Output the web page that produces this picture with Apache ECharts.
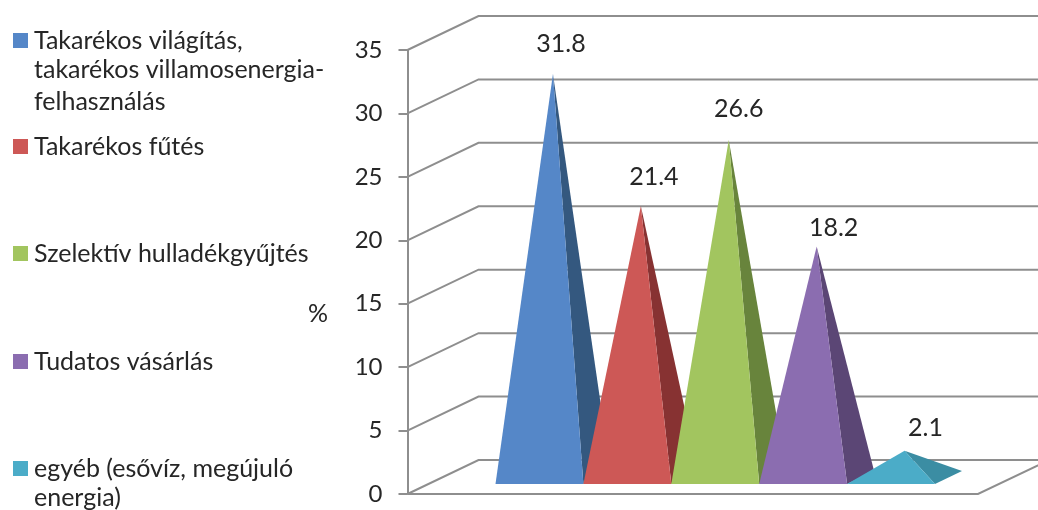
<!DOCTYPE html>
<html><head><meta charset="utf-8">
<style>html,body{margin:0;padding:0;background:#fff}#c{width:1038px;height:510px}</style>
<script src="https://cdn.jsdelivr.net/npm/echarts@6/dist/echarts.min.js"></script>
</head><body><div id="c"></div>
<script>
const categoryLines = [
  ['Takarékos világítás,', 'takarékos villamosenergia-', 'felhasználás'],
  ['Takarékos fűtés'],
  ['Szelektív hulladékgyűjtés'],
  ['Tudatos vásárlás'],
  ['egyéb (esővíz, megújuló', 'energia)']
];
const values = [31.8, 21.4, 26.6, 18.2, 2.1];
const tickValues = [0, 5, 10, 15, 20, 25, 30, 35];
const unitLabel = '%';

// styles and layout, kept apart from the data
const faceColors = ['#5587C8', '#CD5856', '#A2C55F', '#8B6DB0', '#4BACC8'];
const sideColors = ['#34587F', '#873232', '#68843C', '#5B4675', '#3B8DA3'];
const legendCentres = [40, 146, 253, 361, 468];
const labelNudge = [[8, -30], [13, -29], [10, -31], [17, -19], [21, -23]];
const FONT = 'Lato';
const TEXT = '#262626';
const GRID = '#8E8E8E';
const WALL = [71, -34], LEFT_GAP = 88, RIGHT_GAP = 43, LINE_H = 32;
const BAR_LIFT = 10, BAR_DEPTH = [27, -13];
const TEXT_SIZE = 25;

const names = categoryLines.map(l => l.join(' '));

function frameItem(params, api) {
  const v = api.value(0);
  const cs = params.coordSys;
  const y = api.coord([0, v])[1];
  const xl = cs.x - LEFT_GAP, xr = cs.x + cs.width + RIGHT_GAP;
  const pts = [[xl, y], [xl + WALL[0], y + WALL[1]], [xr + WALL[0], y + WALL[1]]];
  const children = [{ type: 'polyline', shape: { points: pts }, style: { fill: null, stroke: GRID, lineWidth: 2 } }];
  if (v === 0) {
    children.push({ type: 'polyline',
      shape: { points: [[xl, y], [xr, y], [xr + WALL[0], y + WALL[1]]] },
      style: { fill: null, stroke: GRID, lineWidth: 2 } });
  }
  return { type: 'group', children };
}

function pyramidItem(seriesIndex) {
  return function (params, api) {
    const c = api.value(0), v = api.value(1);
    const w = api.size([1, 0])[0];
    const base = api.coord([c, 0]);
    const top = api.coord([c, v]);
    const h = base[1] - top[1];
    const fy = base[1] - BAR_LIFT;
    const fl = [base[0] - w / 2, fy], fr = [base[0] + w / 2, fy];
    const br = [fr[0] + BAR_DEPTH[0], fy + BAR_DEPTH[1]];
    const apex = [base[0] + BAR_DEPTH[0] / 2, fy + BAR_DEPTH[1] / 2 - h];
    const n = labelNudge[seriesIndex];
    return { type: 'group', children: [
      { type: 'polygon', shape: { points: [fr, br, apex] }, style: { fill: sideColors[seriesIndex] } },
      { type: 'polygon', shape: { points: [fl, fr, apex] }, style: { fill: faceColors[seriesIndex] } },
      { type: 'text', z2: 50, style: { text: String(v), x: apex[0] + n[0], y: apex[1] + n[1],
        align: 'center', verticalAlign: 'middle', fill: TEXT, font: TEXT_SIZE + 'px ' + FONT } }
    ] };
  };
}

const extraLines = [];
categoryLines.forEach((lines, i) => {
  lines.slice(1).forEach((t, j) => {
    extraLines.push({ type: 'text', left: 34, top: legendCentres[i] + (j + 1) * LINE_H - 17,
      style: { text: t, fill: TEXT, font: TEXT_SIZE + 'px ' + FONT, lineHeight: 30 }, silent: true });
  });
});

const chart = echarts.init(document.getElementById('c'), null, { renderer: 'canvas' });
chart.setOption({
  animation: false,
  backgroundColor: '#fff',
  grid: { left: 495.5, top: 50, width: 439.5, height: 444, containLabel: false },
  xAxis: { type: 'category', data: names, show: false },
  yAxis: {
    type: 'value', min: 0, max: 35, interval: 5, offset: LEFT_GAP,
    axisLine: { show: true, onZero: false, lineStyle: { color: GRID, width: 2 } },
    axisTick: { show: true, length: 9, lineStyle: { color: GRID, width: 2 } },
    axisLabel: { color: TEXT, fontFamily: FONT, fontSize: 24, margin: 25, padding: [3, 0, 0, 0] },
    splitLine: { show: false }
  },
  legend: names.map((n, i) => ({
    orient: 'vertical', left: 13, top: legendCentres[i] - 12, data: [n], icon: 'rect',
    itemWidth: 15, itemHeight: 15, itemGap: 0, padding: 0, selectedMode: false,
    formatter: () => categoryLines[i][0],
    textStyle: { color: TEXT, fontFamily: FONT, fontSize: TEXT_SIZE, padding: [0, 0, 0, 1] }
  })),
  title: { text: unitLabel, left: 308, top: 301, padding: 0,
    textStyle: { color: TEXT, fontFamily: FONT, fontSize: 25, fontWeight: 'normal' } },
  graphic: extraLines,
  series: [
    { type: 'custom', name: 'frame', clip: false, silent: true, z: 1,
      data: tickValues.map(v => [v]), encode: { y: 0 }, renderItem: frameItem }
  ].concat(names.map((n, i) => ({
    type: 'custom', name: n, clip: false, z: 2 + i,
    itemStyle: { color: faceColors[i] },
    data: [[i, values[i]]], encode: { x: 0, y: 1 }, renderItem: pyramidItem(i)
  })))
});
</script></body></html>
